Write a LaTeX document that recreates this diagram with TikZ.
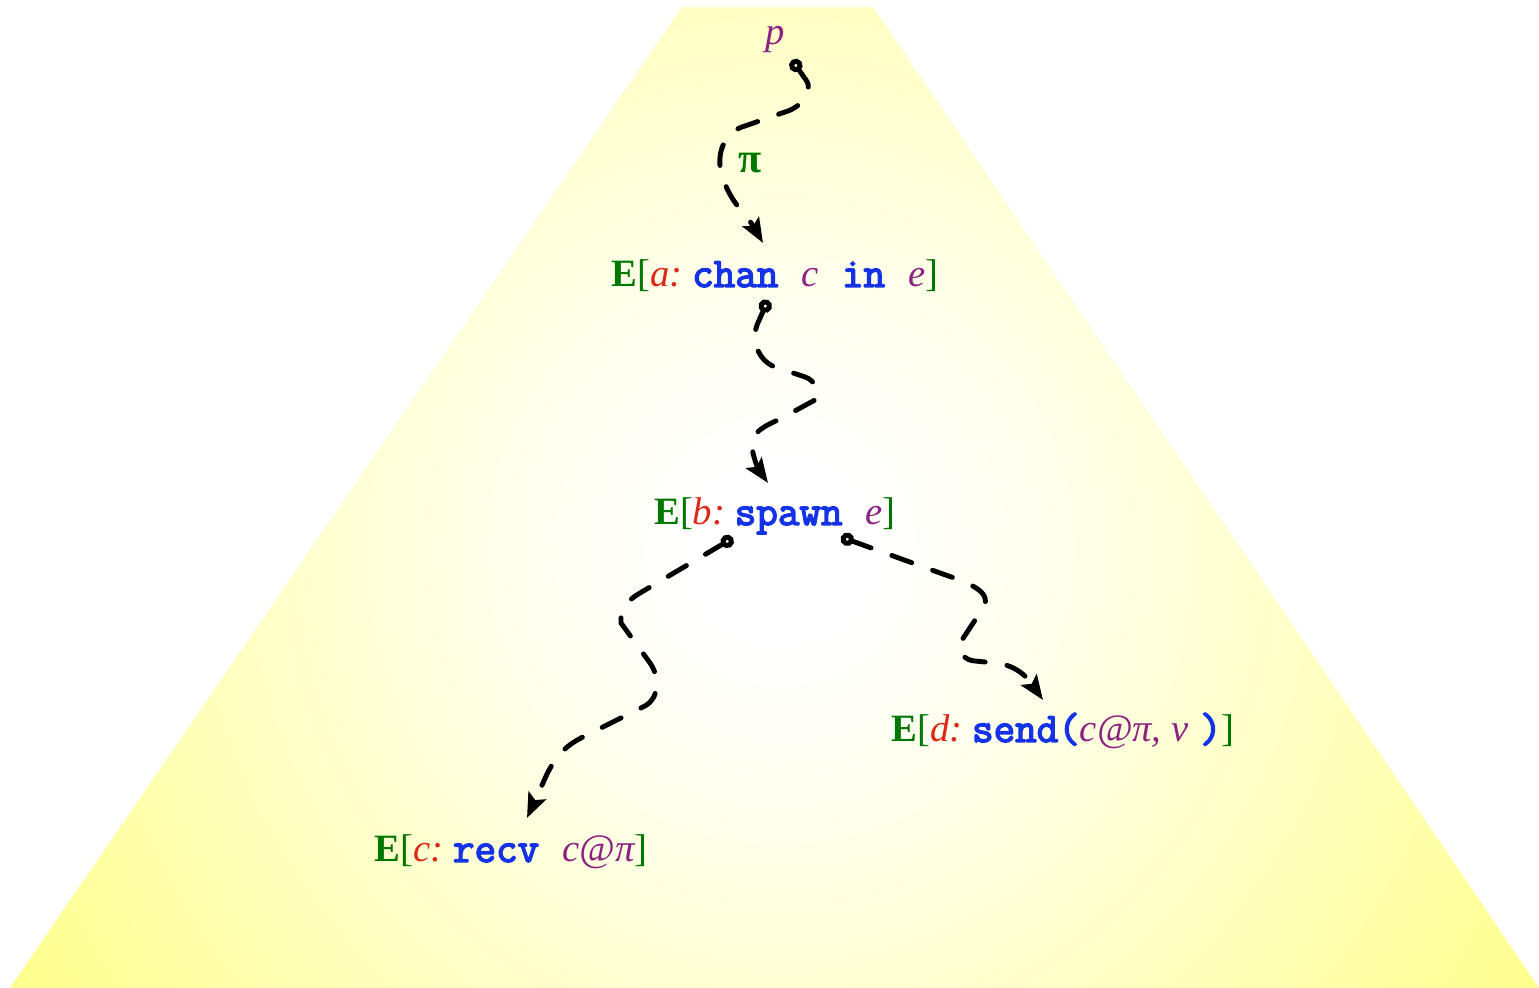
\documentclass[tikz,border=0pt]{standalone}
\usepackage{fontspec}
\setmainfont{Liberation Serif}
\setmonofont{Latin Modern Mono}[AutoFakeBold=3.4]
\usetikzlibrary{arrows.meta,calc}
\definecolor{cgreen}{RGB}{0,120,0}
\definecolor{cred}{RGB}{220,40,20}
\definecolor{cblue}{RGB}{20,50,230}
\definecolor{cpurple}{RGB}{140,35,130}
\pgfdeclareradialshading{trapshade}{\pgfpoint{0bp}{0bp}}{color(0bp)=(white); color(2.5bp)=(white); color(7.5bp)=(yellow!7); color(15bp)=(yellow!23); color(25bp)=(yellow!46); color(50bp)=(yellow!60)}
\newcommand{\myE}[1]{\textcolor{cgreen}{\textbf{E}[}\textcolor{cred}{\itshape #1}}
\newcommand{\myEc}{\textcolor{cgreen}{]}}
\newcommand{\mykw}[1]{\textcolor{cblue}{\ttfamily\bfseries\fontsize{11.9}{13}\selectfont #1}}
\newcommand{\myvr}[1]{\textcolor{cpurple}{\itshape #1}}
\begin{document}
\begin{tikzpicture}[x=0.01cm,y=0.01cm,
  conn/.style={line width=1.4pt, dash pattern=on 6pt off 6.3pt, line cap=round,
    {Circle[open,length=3.8pt]}-{Stealth[length=7pt,width=5.4pt,inset=1.4pt]}},
  lbl/.style={inner sep=0pt, anchor=base, font=\fontsize{11}{13}\selectfont}]
\useasboundingbox (0,0) rectangle (1539,988);
\begin{scope}
  \clip (10,0) -- (682,981) -- (873,981) -- (1539,0) -- cycle;
  \shade[shading=trapshade] (-120,-462) rectangle (1680,1338);
\end{scope}
\node[lbl, text=cpurple] (p) at (775,943) {\itshape p};
\node[lbl] (a) at (775,701) {\myE{a:}\ \mykw{chan}\hspace{0.6em}\myvr{c}\hspace{0.6em}\mykw{in}\hspace{0.6em}\myvr{e}\myEc};
\node[lbl] (b) at (775,463) {\myE{b:}\ \mykw{spawn}\hspace{0.6em}\myvr{e}\myEc};
\node[lbl] (d) at (1063,246) {\myE{d:}\ \mykw{send(}\myvr{c@π, v}\hspace{0.3em}\mykw{)}\myEc};
\node[lbl] (c) at (511,126) {\myE{c:}\ \mykw{recv}\hspace{0.6em}\myvr{c@π}\myEc};
\node[inner sep=0pt, text=cgreen, font=\fontsize{12}{14}\selectfont\bfseries] (pi) at (750,825) {π};
\draw[conn] ($(p.base)+(17,-15)$) -- (806,908) to[out=-55,in=15] (785,876) -- (745,862)
  to[out=195,in=95] (720,822) to[out=-80,in=120] ($(a.base)+(-12,44)$);
\draw[conn] ($(a.base)+(-7,-13)$) -- (757,663) to[out=-110,in=165] (778,620) -- (805,611)
  to[out=-15,in=25] (815,588) -- (780,569) to[out=205,in=100] (752,540)
  to[out=-80,in=125] ($(b.base)+(-7,42)$);
\draw[conn] ($(b.base)+(-42,-13)$) -- (640,395) to[out=210,in=95] (621,365) -- (650,325)
  to[out=-55,in=30] (645,282) -- (585,252) to[out=205,in=67] (543,205)
  -- ($(c.base)+(16,44)$);
\draw[conn] ($(b.base)+(66,-12)$) -- (940,415) to[out=-20,in=57] (983,380) -- (960,345)
  to[out=-123,in=180] (975,327) -- (995,325) to[out=-5,in=125] ($(d.base)+(-20,42)$);
\end{tikzpicture}
\end{document}
